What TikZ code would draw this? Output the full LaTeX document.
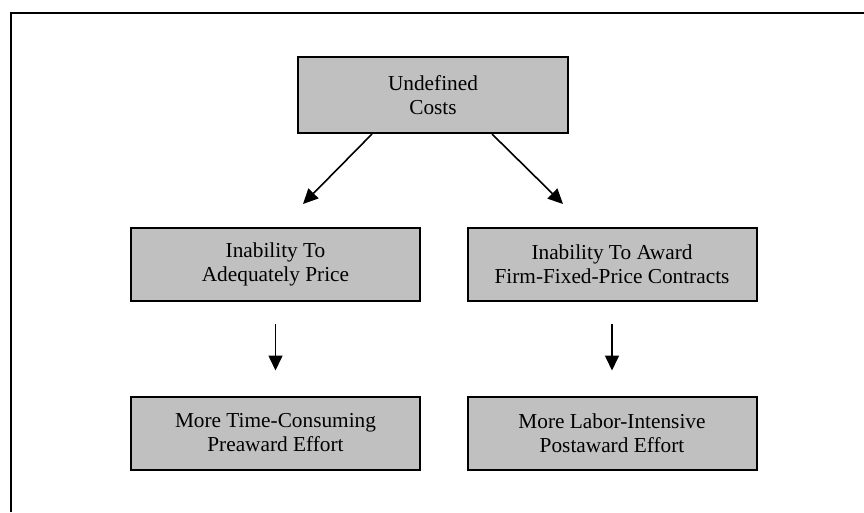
\documentclass[tikz,border=0pt]{standalone}
\usepackage{fontspec}
\setmainfont{Liberation Serif}
\usetikzlibrary{arrows.meta}
\definecolor{boxgray}{HTML}{C0C0C0}
\tikzset{
chartbox/.style={
	draw, line width=2pt, fill=boxgray, minimum width=289pt,
	minimum height=73pt, inner sep=0pt, align=center,
	font=\fontsize{21.3}{24}\selectfont},
flow/.style={line width=1.6pt, -{Triangle[length=15pt,width=14pt]}}
}

\begin{document}
\begin{tikzpicture}[x=1pt, y=1pt]
	\useasboundingbox (0,0) rectangle (864,-512);
	% frame
	\draw[line width=2pt] (11,-512) -- (11,-13) -- (864,-13);
	\node[chartbox, minimum width=270pt, minimum height=76pt] (costs) at (433,-95) {Undefined\\Costs};
	\node[chartbox] (price) at (275.5,-264.5) {Inability To\\Adequately Price};
	\node[chartbox] (award) at (612,-264.5) {Inability To Award\\Firm-Fixed-Price Contracts};
	\node[chartbox] (preaward) at (275.5,-433) {More Time-Consuming\\Preaward Effort};
	\node[chartbox] (postaward) at (612,-433) {More Labor-Intensive\\Postaward Effort};
	\coordinate (lstart) at ([xshift=-61pt]costs.south);
	\coordinate (rstart) at ([xshift=59pt]costs.south);
	\coordinate (lend) at (303,-204);
	\coordinate (rend) at (563,-204);
	\draw[flow] (lstart) -- (lend);
	\draw[flow] (rstart) -- (rend);
	\draw[flow, shorten <=22pt, shorten >=25pt] (price.south) -- (preaward.north);
	\draw[flow, shorten <=22pt, shorten >=25pt] (award.south) -- (postaward.north);
\end{tikzpicture}
\end{document}
